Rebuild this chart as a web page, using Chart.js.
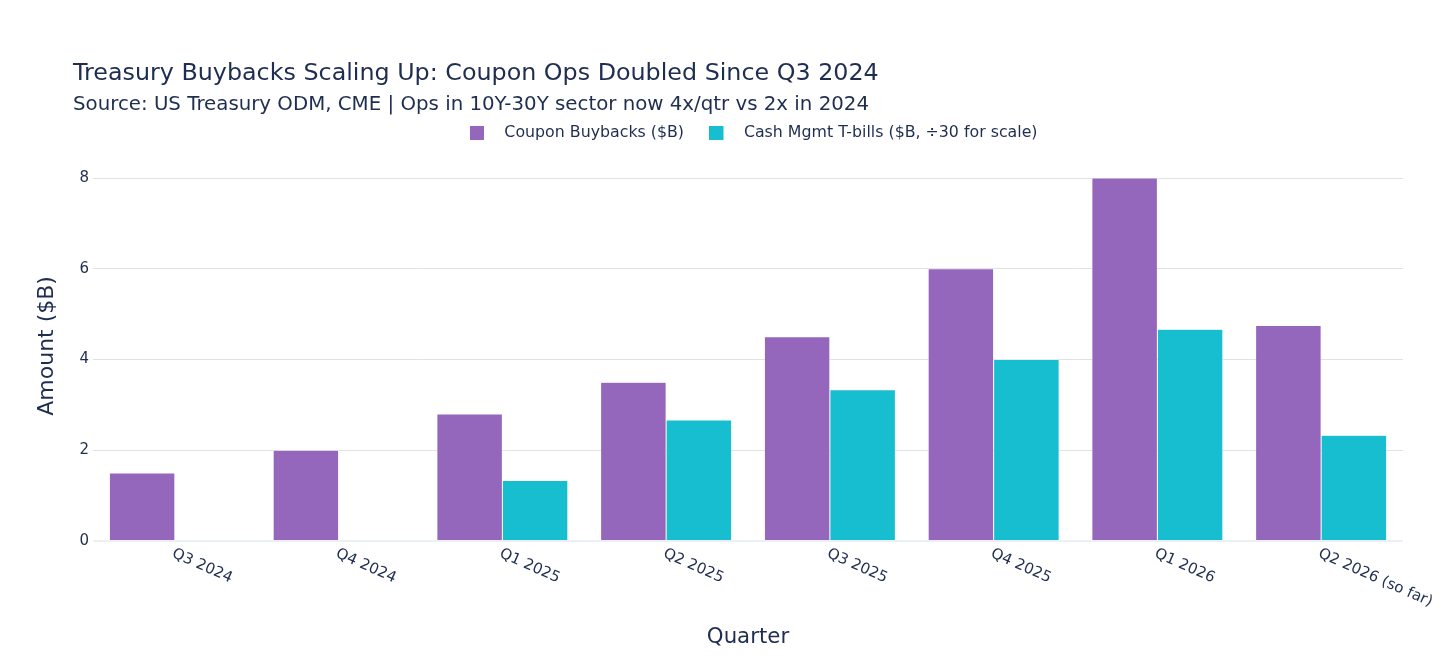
<!DOCTYPE html>
<html>
<head>
<meta charset="utf-8">
<script src="https://cdn.jsdelivr.net/npm/chart.js@4.4.1/dist/chart.umd.min.js"></script>
<style>
  html, body { margin: 0; padding: 0; background: #fff; }
  #wrap { width: 1456px; height: 662px; position: relative; }
</style>
</head>
<body>
<div id="wrap"><canvas id="chart"></canvas></div>
<script>
/* ---------- data ---------- */
const quarters = ["Q3 2024", "Q4 2024", "Q1 2025", "Q2 2025", "Q3 2025", "Q4 2025", "Q1 2026", "Q2 2026 (so far)"];
const couponBuybacks = [1.5, 2.0, 2.8, 3.5, 4.5, 6.0, 8.0, 4.75];
const cashMgmtBills = [0, 0, 1.333, 2.667, 3.333, 4.0, 4.667, 2.333]; // $B / 30
const yTicks = [0, 2, 4, 6, 8];

const seriesNames = ["Coupon Buybacks ($B)", "Cash Mgmt T-bills ($B, \u00f730 for scale)"];
const seriesColors = ["#9467bd", "#17becf"];

const TEXT = "#1e2d50";
const FONT = "'DejaVu Sans', Verdana, sans-serif";

/* ---------- helpers ---------- */
// legend icon: square on the left, empty space on the right (gap before text)
function makeIcon(color) {
  const c = document.createElement("canvas");
  c.width = 27; c.height = 14;
  const g = c.getContext("2d");
  g.fillStyle = color;
  g.fillRect(0, 0, 14, 14);
  return c;
}
const legendIcons = seriesColors.map(makeIcon);

// title, subtitle and slanted category labels
const textPlugin = {
  id: "textPlugin",
  afterLayout(chart) {
    // legend is centred a little right of the plot centre
    chart.legend.left += 6;
    chart.legend.right += 6;
  },
  afterDraw(chart) {
    const ctx = chart.ctx;
    ctx.save();
    ctx.fillStyle = TEXT;
    ctx.textAlign = "left";
    ctx.textBaseline = "alphabetic";
    ctx.font = "23.8px " + FONT;
    ctx.fillText("Treasury Buybacks Scaling Up: Coupon Ops Doubled Since Q3 2024", 73, 80);
    ctx.font = "19.8px " + FONT;
    ctx.fillText("Source: US Treasury ODM, CME | Ops in 10Y-30Y sector now 4x/qtr vs 2x in 2024", 73, 110);

    const xs = chart.scales.x;
    ctx.font = "15px " + FONT;
    ctx.textBaseline = "top";
    quarters.forEach((q, i) => {
      const px = xs.getPixelForValue(i);
      ctx.save();
      ctx.translate(px + 1, chart.chartArea.bottom + 5);
      ctx.rotate(24 * Math.PI / 180);
      ctx.fillText(q, 0, 0);
      ctx.restore();
    });
    ctx.restore();
  }
};

/* ---------- chart ---------- */
new Chart(document.getElementById("chart"), {
  type: "bar",
  data: {
    labels: quarters,
    datasets: [
      { label: seriesNames[0], data: couponBuybacks, backgroundColor: seriesColors[0] },
      { label: seriesNames[1], data: cashMgmtBills, backgroundColor: seriesColors[1] }
    ]
  },
  options: {
    responsive: true,
    maintainAspectRatio: false,
    animation: false,
    layout: { padding: { top: 99, left: 0, right: 53, bottom: 0 } },
    datasets: {
      bar: {
        categoryPercentage: 0.8,
        barPercentage: 1.0,
        borderWidth: 0.5,
        borderColor: "#ffffff"
      }
    },
    plugins: {
      title: { display: false },
      tooltip: { enabled: false },
      legend: {
        display: true,
        position: "top",
        fullSize: false,
        labels: {
          color: TEXT,
          font: { family: FONT, size: 15.8 },
          padding: 26,
          usePointStyle: true,
          pointStyleWidth: 26,
          generateLabels: chart =>
            Chart.defaults.plugins.legend.labels.generateLabels(chart)
              .map((it, i) => ({ ...it, pointStyle: legendIcons[i] }))
        }
      }
    },
    scales: {
      x: {
        grid: { display: false },
        border: { display: false },
        ticks: { display: false },
        title: {
          display: true,
          text: "Quarter",
          color: TEXT,
          font: { family: FONT, size: 21.3 },
          padding: { top: 0, bottom: 12 }
        },
        afterFit: s => { s.height = 121; }
      },
      y: {
        min: 0,
        max: 8.6,
        afterBuildTicks: s => { s.ticks = yTicks.map(v => ({ value: v })); },
        grid: {
          drawTicks: false,
          color: c => (c.tick && c.tick.value === 0 ? "#ebf0f8" : "#e2e2e2"),
          lineWidth: c => (c.tick && c.tick.value === 0 ? 2 : 1)
        },
        border: { display: false },
        ticks: {
          color: TEXT,
          font: { family: FONT, size: 15 },
          padding: 4
        },
        title: {
          display: true,
          text: "Amount ($B)",
          color: TEXT,
          font: { family: FONT, size: 22 },
          padding: { top: 34, bottom: 0 }
        },
        afterFit: s => { s.width = 93; }
      }
    }
  },
  plugins: [textPlugin]
});
</script>
</body>
</html>
